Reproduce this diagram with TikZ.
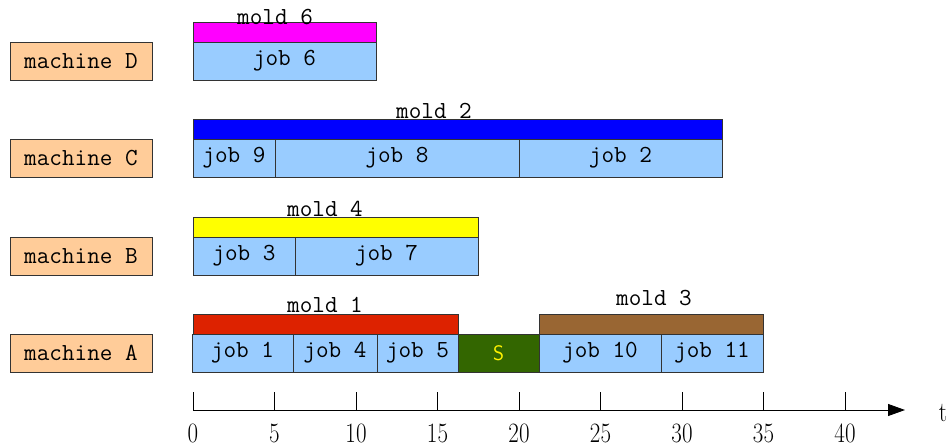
\documentclass[tikz,border=0pt]{standalone}
\usetikzlibrary{arrows.meta}
\definecolor{machinefill}{HTML}{FFCC99}
\definecolor{jobfill}{HTML}{99CCFF}
\definecolor{moldsix}{HTML}{FF00FF}
\definecolor{moldtwo}{HTML}{0000FF}
\definecolor{moldfour}{HTML}{FFFF00}
\definecolor{moldone}{HTML}{DD2200}
\definecolor{moldthree}{HTML}{996633}
\definecolor{setupfill}{HTML}{336600}
\definecolor{edge}{HTML}{333333}
\newcommand{\axisnum}[1]{\scalebox{0.82}[1]{#1}}
\tikzset{
  base/.style={draw=edge, line width=0.9pt, inner sep=0pt, outer sep=0pt,
    anchor=north west, font=\fontsize{24.5}{28}\ttfamily},
  machinebox/.style={base, fill=machinefill, minimum width=142pt, minimum height=38pt},
  jobbox/.style={base, fill=jobfill, minimum height=38pt},
  moldbar/.style={base, minimum height=20pt},
  setupbox/.style={base, fill=setupfill, text=yellow, minimum height=38pt,
    font=\fontsize{21}{24}\sffamily},
  moldlabel/.style={inner sep=0pt, font=\fontsize{24.5}{28}\ttfamily},
  ticklabel/.style={inner sep=0pt, font=\fontsize{28}{32}\rmfamily},
}
\begin{document}
\begin{tikzpicture}[x=1pt,y=-1pt]
\useasboundingbox (0,0) rectangle (949,446);

% machines
\node[machinebox] (mD) at (10,42)  {machine D};
\node[machinebox] (mC) at (10,139) {machine C};
\node[machinebox] (mB) at (10,237) {machine B};
\node[machinebox] (mA) at (10,334) {machine A};

% machine D
\node[moldbar, fill=moldsix, minimum width=183pt] (m6) at (193,22) {};
\node[jobbox, minimum width=183pt] (j6) at (193,42) {job 6};
\node[moldlabel] (l6) at (275,17) {mold 6};

% machine C
\node[moldbar, fill=moldtwo, minimum width=529pt] (m2) at (193,119) {};
\node[jobbox, minimum width=82pt]  (j9) at (193,139) {job 9};
\node[jobbox, minimum width=244pt] (j8) at (275,139) {job 8};
\node[jobbox, minimum width=203pt] (j2) at (519,139) {job 2};
\node[moldlabel] (l2) at (434,111) {mold 2};

% machine B
\node[moldbar, fill=moldfour, minimum width=285pt] (m4) at (193,217) {};
\node[jobbox, minimum width=102pt] (j3) at (193,237) {job 3};
\node[jobbox, minimum width=183pt] (j7) at (295,237) {job 7};
\node[moldlabel] (l4) at (325,209) {mold 4};

% machine A
\node[moldbar, fill=moldone, minimum width=265pt] (m1) at (193,314) {};
\node[moldbar, fill=moldthree, minimum width=224pt] (m3) at (539,314) {};
\node[jobbox, minimum width=101pt] (j1)  at (192,334) {job 1};
\node[jobbox, minimum width=84pt]  (j4)  at (293,334) {job 4};
\node[jobbox, minimum width=81pt]  (j5)  at (377,334) {job 5};
\node[setupbox, minimum width=81pt] (s)  at (458,334) {S};
\node[jobbox, minimum width=122pt] (j10) at (539,334) {job 10};
\node[jobbox, minimum width=102pt] (j11) at (661,334) {job 11};
\node[moldlabel] (l1) at (325,305) {mold 1};
\node[moldlabel] (l3) at (654,298) {mold 3};

% time axis
\coordinate (o) at (193,410);
\coordinate (e) at (905,410);
\draw[line width=0.9pt, -{Triangle[length=17pt,width=12pt]}] (o) -- (e);
\foreach \t in {0,5,...,40} {
  \coordinate (tk\t) at ({193+\t*16.3},410);
  \draw[line width=0.9pt] (tk\t) -- ++(0,-18);
  \node[ticklabel] (n\t) at ({193+\t*16.3},433) {\axisnum{\t}};
}
\node[ticklabel] (tl) at (943,413) {\axisnum{t}};
\end{tikzpicture}
\end{document}
